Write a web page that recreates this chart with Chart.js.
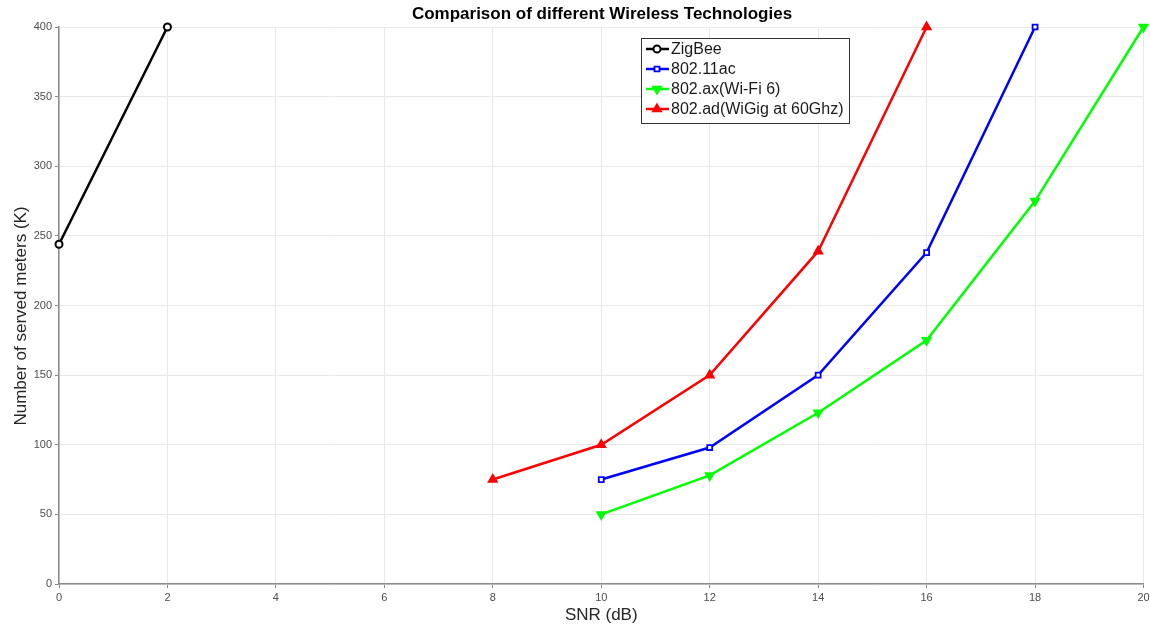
<!DOCTYPE html>
<html>
<head>
<meta charset="utf-8">
<script src="https://cdn.jsdelivr.net/npm/chart.js@4"></script>
<style>
  html, body { margin: 0; padding: 0; background: #fff; }
  #wrap { width: 1150px; height: 630px; }
</style>
</head>
<body>
<div id="wrap"><canvas id="snrChart" width="1150" height="630"></canvas></div>
<script>
// values
const zigbeeX = [0, 2];
const zigbeeY = [244, 400];
const acX = [10, 12, 14, 16, 18];
const acY = [75, 98, 150, 238, 400];
const axX = [10, 12, 14, 16, 18, 20];
const axY = [50, 78, 123, 175, 275, 400];
const adX = [8, 10, 12, 14, 16];
const adY = [75, 100, 150, 239, 400];

const xTicks = [0, 2, 4, 6, 8, 10, 12, 14, 16, 18, 20];
const yTicks = [0, 50, 100, 150, 200, 250, 300, 350, 400];

const FONT = 'Arial, "Liberation Sans", sans-serif';
const pts = (xs, ys) => xs.map((x, i) => ({ x: x, y: ys[i] }));

// title, y label and legend box drawn by hand to sit like the original
const extras = {
  id: 'extras',
  afterDraw(chart) {
    const ctx = chart.ctx;
    ctx.save();
    ctx.fillStyle = '#000';
    ctx.font = 'bold 17px ' + FONT;
    ctx.textAlign = 'center';
    ctx.textBaseline = 'middle';
    ctx.fillText('Comparison of different Wireless Technologies', 602, 14);

    // y axis title
    ctx.save();
    ctx.translate(21, 316);
    ctx.rotate(-Math.PI / 2);
    ctx.fillStyle = '#262626';
    ctx.font = '17px ' + FONT;
    ctx.fillText('Number of served meters (K)', 0, 0);
    ctx.restore();

    // legend
    const lx = 641, ly = 38, lw = 208, lh = 85;
    ctx.fillStyle = '#fff';
    ctx.fillRect(lx, ly, lw, lh);
    ctx.strokeStyle = '#333';
    ctx.lineWidth = 1;
    ctx.strokeRect(lx + 0.5, ly + 0.5, lw, lh);
    ctx.font = '16px ' + FONT;
    ctx.textAlign = 'left';
    chart.data.datasets.forEach((ds, i) => {
      const y = ly + 11 + i * 20;
      ctx.strokeStyle = ds.borderColor;
      ctx.lineWidth = 2.5;
      ctx.beginPath();
      ctx.moveTo(lx + 5, y);
      ctx.lineTo(lx + 28, y);
      ctx.stroke();
      ctx.fillStyle = ds.pointBackgroundColor;
      ctx.strokeStyle = ds.borderColor;
      ctx.lineWidth = ds.pointBorderWidth;
      Chart.helpers.drawPoint(ctx, {
        pointStyle: ds.pointStyle,
        rotation: ds.pointRotation || 0,
        radius: ds.pointRadius,
        borderWidth: ds.pointBorderWidth
      }, lx + 16, y);
      ctx.fillStyle = '#1a1a1a';
      ctx.fillText(ds.label, lx + 30, y + 1);
    });
    ctx.restore();
  }
};

new Chart(document.getElementById('snrChart'), {
  type: 'line',
  data: {
    datasets: [
      {
        label: 'ZigBee',
        data: pts(zigbeeX, zigbeeY),
        borderColor: '#000000',
        backgroundColor: '#ffffff',
        pointBackgroundColor: '#ffffff',
        pointStyle: 'circle',
        pointRadius: 3.5,
        pointBorderWidth: 2,
        borderWidth: 2.5,
        clip: false
      },
      {
        label: '802.11ac',
        data: pts(acX, acY),
        borderColor: '#0000ff',
        backgroundColor: '#ffffff',
        pointBackgroundColor: '#ffffff',
        pointStyle: 'rect',
        pointRadius: 3.5,
        pointBorderWidth: 1.8,
        borderWidth: 2.5,
        clip: false
      },
      {
        label: '802.ax(Wi-Fi 6)',
        data: pts(axX, axY),
        borderColor: '#00ff00',
        backgroundColor: '#00ff00',
        pointBackgroundColor: '#00ff00',
        pointStyle: 'triangle',
        pointRotation: 180,
        pointRadius: 5,
        pointBorderWidth: 1.5,
        borderWidth: 2.5,
        clip: false
      },
      {
        label: '802.ad(WiGig at 60Ghz)',
        data: pts(adX, adY),
        borderColor: '#ff0000',
        backgroundColor: '#ff0000',
        pointBackgroundColor: '#ff0000',
        pointStyle: 'triangle',
        pointRadius: 5,
        pointBorderWidth: 1.5,
        borderWidth: 2.5,
        clip: false
      }
    ]
  },
  options: {
    responsive: false,
    animation: false,
    events: [],
    layout: { padding: { top: 27, right: 3, left: 0, bottom: 0 } },
    plugins: {
      legend: { display: false },
      title: { display: false },
      tooltip: { enabled: false }
    },
    scales: {
      x: {
        type: 'linear',
        min: 0,
        max: 20,
        afterBuildTicks: (s) => { s.ticks = xTicks.map(v => ({ value: v })); },
        afterFit: (s) => { s.height = 46; s.paddingRight = 0; s.paddingLeft = 0; },
        grid: { color: '#e8e8e8', tickLength: 4, tickColor: '#888' },
        border: { color: '#8c8c8c', width: 1.5 },
        ticks: { color: '#4d4d4d', font: { size: 11, family: FONT }, padding: 3, maxRotation: 0 },
        title: { display: true, text: 'SNR (dB)', color: '#262626', font: { size: 17, family: FONT }, padding: { top: 0 } }
      },
      y: {
        type: 'linear',
        min: 0,
        max: 400,
        afterBuildTicks: (s) => { s.ticks = yTicks.map(v => ({ value: v })); },
        afterFit: (s) => { s.width = 59; },
        grid: { color: '#e8e8e8', tickLength: 4, tickColor: '#888' },
        border: { color: '#8c8c8c', width: 1.5 },
        ticks: { color: '#4d4d4d', font: { size: 11, family: FONT }, padding: 3 },
        title: { display: false }
      }
    }
  },
  plugins: [extras]
});
</script>
</body>
</html>
